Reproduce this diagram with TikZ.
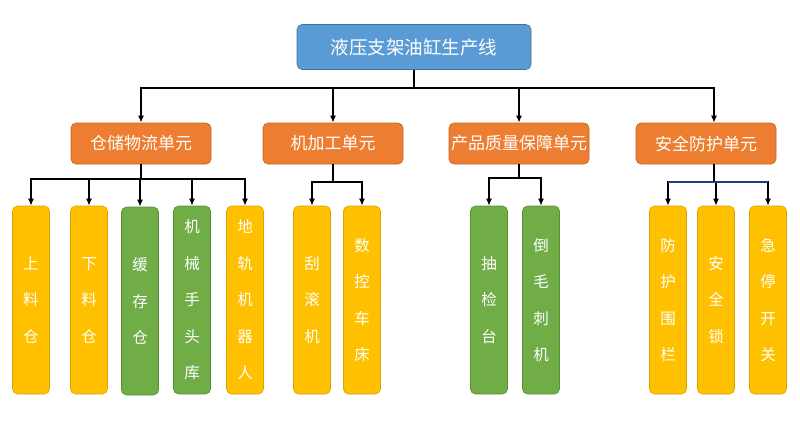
\documentclass[tikz,border=0pt]{standalone}
\usepackage{fontspec}
\newfontfamily\cjk{Noto Sans CJK SC}
\usetikzlibrary{arrows.meta}

\definecolor{rootblue}{HTML}{5B9BD5}
\definecolor{rootedge}{HTML}{41719C}
\definecolor{unitorange}{HTML}{ED7D31}
\definecolor{unitedge}{HTML}{C0652A}
\definecolor{leafyellow}{HTML}{FFC000}
\definecolor{yellowedge}{HTML}{D9A300}
\definecolor{leafgreen}{HTML}{70AD47}
\definecolor{greenedge}{HTML}{5A8F38}
\definecolor{busnavy}{HTML}{1F3C88}

\begin{document}
\begin{tikzpicture}[->,>={Latex[length=7pt,width=6pt]},x=1pt,y=-1pt]
      \tikzstyle{box}=[rounded corners=5pt,draw,line width=0.6pt,text=white,inner sep=0pt];
      \tikzstyle{rootbox}=[box,fill=rootblue,draw=rootedge,minimum width=234pt,minimum height=45pt,font=\cjk\fontsize{18.5}{20}\selectfont];
      \tikzstyle{unitbox}=[box,fill=unitorange,draw=unitedge,minimum width=140pt,minimum height=41pt,font=\cjk\fontsize{17}{20}\selectfont];
      \tikzstyle{leaf}=[box,minimum width=37pt,minimum height=188pt,align=center,font=\cjk\fontsize{15.5}{36.5}\selectfont];
      \tikzstyle{yleaf}=[leaf,fill=leafyellow,draw=yellowedge];
      \tikzstyle{gleaf}=[leaf,fill=leafgreen,draw=greenedge];
      \tikzstyle{wire}=[line width=2pt,black];

      \useasboundingbox (0,0) rectangle (800,426);

      \node[rootbox](root) at (414,47) {液压支架油缸生产线};

      \node[unitbox](u1) at (141,143.5) {仓储物流单元};
      \node[unitbox](u2) at (333,143.5) {机加工单元};
      \node[unitbox](u3) at (519,143.5) {产品质量保障单元};
      \node[unitbox](u4) at (706,143.5) {安全防护单元};

      \node[yleaf](s11) at (31,300) {上\\料\\仓};
      \node[yleaf](s12) at (89,300) {下\\料\\仓};
      \node[gleaf](s13) at (140,301) {缓\\存\\仓};
      \node[gleaf](s14) at (192,300) {机\\械\\手\\头\\库};
      \node[yleaf](s15) at (245,300) {地\\轨\\机\\器\\人};
      \node[yleaf](s21) at (312,300) {刮\\滚\\机};
      \node[yleaf](s22) at (362,300) {数\\控\\车\\床};
      \node[gleaf](s31) at (489,300) {抽\\检\\台};
      \node[gleaf](s32) at (541,300) {倒\\毛\\刺\\机};
      \node[yleaf](s41) at (668,300) {防\\护\\围\\栏};
      \node[yleaf](s42) at (716,300) {安\\全\\锁};
      \node[yleaf](s43) at (768,300) {急\\停\\开\\关};

      \coordinate (bus4) at (714,182);

      \draw[wire] (root.south) -- ++(0,18.5) -| (u1.north);
      \draw[wire] (root.south) -- ++(0,18.5) -| (u2.north);
      \draw[wire] (root.south) -- ++(0,18.5) -| (u3.north);
      \draw[wire] (root.south) -- ++(0,18.5) -| ([xshift=8pt]u4.north);

      \draw[wire] (u1.south) -- ++(0,15) -| (s11.north);
      \draw[wire] (u1.south) -- ++(0,15) -| (s12.north);
      \draw[wire] (u1.south) -- ++(0,15) -| (s13.north);
      \draw[wire] (u1.south) -- ++(0,15) -| (s14.north);
      \draw[wire] (u1.south) -- ++(0,15) -| (s15.north);

      \draw[wire] (u2.south) -- ++(0,18) -| (s21.north);
      \draw[wire] (u2.south) -- ++(0,18) -| (s22.north);

      \draw[wire] (u3.south) -- ++(0,14) -| (s31.north);
      \draw[wire] (u3.south) -- ++(0,14) -| (s32.north);

      \draw[wire] ([xshift=8pt]u4.south) -- (bus4) -| (s41.north);
      \draw[wire] ([xshift=8pt]u4.south) -- (bus4) -| (s42.north);
      \draw[wire] ([xshift=8pt]u4.south) -- (bus4) -| (s43.north);
      \draw[wire,-,busnavy] (s41.north |- bus4) -- (s43.north |- bus4);

    \end{tikzpicture}
\end{document}
